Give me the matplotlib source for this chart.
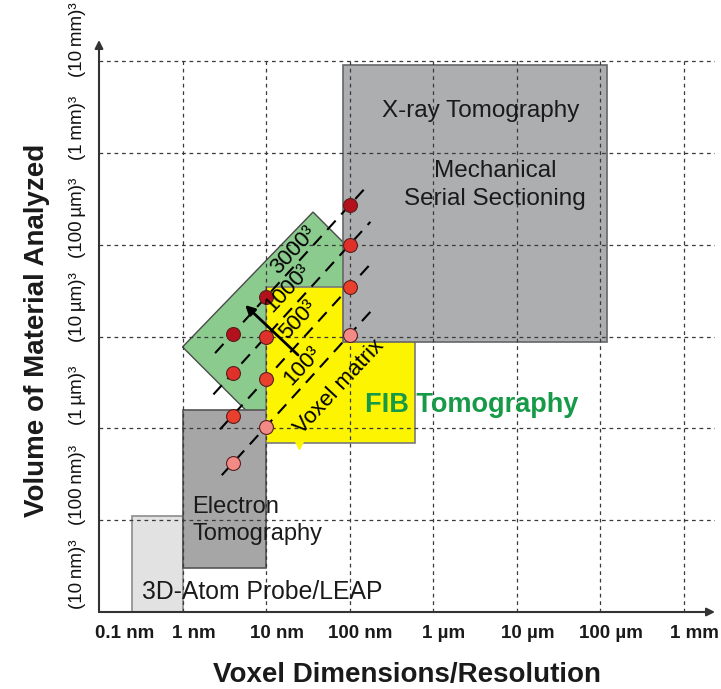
import matplotlib
matplotlib.use("Agg")
from matplotlib import pyplot as plt
from matplotlib.patches import Rectangle, Polygon
from matplotlib.transforms import ScaledTranslation
import numpy as np

plt.rcParams['font.family'] = ['Liberation Sans', 'DejaVu Sans']

# x: log10(voxel size / nm), y: log10(edge of analyzed volume / nm)
x_ticks = [-1, 0, 1, 2, 3, 4, 5, 6]
x_labels = ['0.1 nm', '1 nm', '10 nm', '100 nm', '1 µm', '10 µm', '100 µm', '1 mm']
y_ticks = [1, 2, 3, 4, 5, 6, 7]
y_labels = ['(10\u2009nm)³', '(100\u2009nm)³', '(1\u2009µm)³', '(10\u2009µm)³',
            '(100\u2009µm)³', '(1\u2009mm)³', '(10\u2009mm)³']

# technique boxes: (x0, x1, y0, y1)
atom_probe = (-0.6, 0.0, 1.0, 2.05)
electron_tomo = (0.0, 1.0, 1.48, 3.2)
xray_tomo = (1.92, 5.08, 3.94, 6.96)
fib_box = (1.0, 2.78, 2.84, 4.54)
# rotated FIB/SEM window (corners)
green_x = [0.0, 1.563, 2.58, 1.02]
green_y = [3.887, 5.357, 4.43, 2.96]

# voxel matrix lines (y = x + offset)
matrix_labels = ['100³', '500³', '1000³', '3000³']
matrix_offsets = [2.02, 2.54, 3.0, 3.43]
line_start = [0.47, 0.45, 0.37, 0.39]
line_end = [2.28, 2.28, 2.25, 2.21]
point_x = [0.6, 1.0, 2.0]
point_colors = ['#f28a86', '#e8402c', '#e0302a', '#b3121c']
label_x = [1.431, 1.383, 1.263, 1.335]
label_y = [3.68, 4.18, 4.53, 4.94]

fig = plt.figure(figsize=(7.21, 6.89), dpi=100)
ax = fig.add_axes([99 / 721, 77 / 689, 616 / 721, 572 / 689])
ax.set_xlim(-1, 6.377)
ax.set_ylim(1, 7.231)
for s in ax.spines.values():
    s.set_visible(False)


def box(b, fc, ec, z):
    ax.add_patch(Rectangle((b[0], b[2]), b[1] - b[0], b[3] - b[2], fc=fc, ec=ec, lw=1.2, zorder=z))


box(atom_probe, '#e2e2e2', '#8c8c8c', 1)
ax.add_patch(Polygon(np.column_stack([green_x, green_y]), closed=True, fc='#8bcb8e', ec='#4a4a4a', lw=1.0, zorder=2))
box(electron_tomo, '#a6a6a6', '#555555', 3)
box(fib_box, '#fcf400', '#7a7a7a', 3)
box(xray_tomo, '#adaeb0', '#666666', 3)
ax.plot([1.4], [2.82], marker='v', ms=6, color='#fcf400', zorder=3)

# dashed grid on top of boxes
ax.hlines(y_ticks[1:], -1, 6.377, colors='#3a3a3a', lw=0.9, linestyles=(0, (3, 3)), zorder=4)
ax.vlines(x_ticks[1:], 1, 7, colors='#3a3a3a', lw=0.9, linestyles=(0, (3, 3)), zorder=4)

# axes with arrows
ax.annotate('', xy=(6.377, 1), xytext=(-1, 1),
            arrowprops=dict(arrowstyle='-|>', color='#333333', lw=1.5, mutation_scale=12, shrinkA=0, shrinkB=0),
            annotation_clip=False, zorder=8)
ax.annotate('', xy=(-1, 7.231), xytext=(-1, 1),
            arrowprops=dict(arrowstyle='-|>', color='#333333', lw=1.5, mutation_scale=12, shrinkA=0, shrinkB=0),
            annotation_clip=False, zorder=8)

for off, x0, x1, lab, lx, ly in zip(matrix_offsets, line_start, line_end, matrix_labels, label_x, label_y):
    xs = np.array([x0, x1])
    ax.plot(xs, xs + off, color='black', lw=1.5, ls=(0, (6, 4)), zorder=5)
    ax.text(lx, ly, lab, fontsize=16, rotation=47, ha='center', va='center', zorder=7)

for off, c in zip(matrix_offsets, point_colors):
    px = np.array(point_x)
    ax.plot(px, px + off, ls='none', marker='o', ms=10, mfc=c, mec='#5a2020', mew=0.8, zorder=6)

ax.annotate('', xy=(0.749, 4.344), xytext=(1.383, 3.80),
            arrowprops=dict(arrowstyle='-|>', color='black', lw=2, mutation_scale=14, shrinkA=0, shrinkB=0),
            zorder=7)
ax.text(1.874, 3.45, 'Voxel matrix', fontsize=16, rotation=47, ha='center', va='center', zorder=7)

ax.text(-0.485, 1.22, '3D-Atom Probe/LEAP', fontsize=17.8, ha='left', va='center', color='#1a1a1a', zorder=7)
ax.text(0.114, 2.0, 'Electron\nTomography', fontsize=17, ha='left', va='center', color='#1a1a1a',
        linespacing=1.3, zorder=7)
ax.text(3.575, 6.457, 'X-ray Tomography', fontsize=17.5, ha='center', va='center', color='#1a1a1a', zorder=7)
ax.text(3.74, 5.65, 'Mechanical\nSerial Sectioning', fontsize=17.5, ha='center', va='center', color='#1a1a1a',
        linespacing=1.35, zorder=7)
ax.text(2.186, 3.255, 'FIB Tomography', fontsize=19.5, fontweight='bold', ha='left', va='center',
        color='#169a48', zorder=7)

ax.set_xticks(x_ticks)
ax.set_xticklabels(x_labels, fontsize=13.5, fontweight='bold', color='#1a1a1a')
ax.set_yticks(y_ticks)
ax.set_yticklabels(y_labels, fontsize=13.5, rotation=90, va='center', ha='right', color='#111111')
ax.tick_params(axis='both', length=0)
ax.tick_params(axis='x', pad=9)
ax.tick_params(axis='y', pad=9)
shift = ScaledTranslation(11 / 100, 0, fig.dpi_scale_trans)
for i, t in enumerate(ax.get_xticklabels()):
    t.set_transform(t.get_transform() + shift)
    if i == 0:
        t.set_ha('left')
        t.set_transform(t.get_transform() + ScaledTranslation(-15 / 100, 0, fig.dpi_scale_trans))
# the y labels sit a little above their grid lines, more so near the bottom
for i, t in enumerate(ax.get_yticklabels()):
    lift = (38 - 16 * i / 6) / 100
    t.set_transform(t.get_transform() + ScaledTranslation(0, lift, fig.dpi_scale_trans))

fig.text(407 / 721, 1 - 675 / 689, 'Voxel Dimensions/Resolution', fontsize=20, fontweight='bold',
         ha='center', va='center', color='#1a1a1a')
fig.text(37 / 721, 1 - 330 / 689, 'Volume of Material Analyzed', fontsize=20, fontweight='bold',
         ha='center', va='center', rotation=90, color='#1a1a1a')

fig.savefig('out.png', dpi=100)
